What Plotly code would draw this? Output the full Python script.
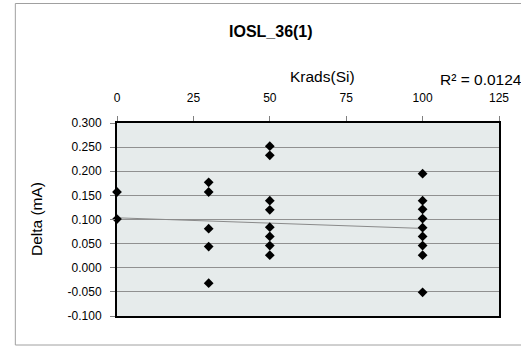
import plotly.graph_objects as go

# Data
krads = [0, 0,
         30, 30, 30, 30, 30,
         50, 50, 50, 50, 50, 50, 50, 50,
         100, 100, 100, 100, 100, 100, 100, 100, 100]
delta = [0.157, 0.101,
         0.177, 0.157, 0.081, 0.044, -0.032,
         0.252, 0.233, 0.139, 0.120, 0.084, 0.065, 0.046, 0.026,
         0.195, 0.139, 0.121, 0.102, 0.083, 0.065, 0.046, 0.026, -0.051]
trend_x = [0, 100]
trend_y = [0.1035, 0.0815]
x_ticks = [0, 25, 50, 75, 100, 125]
y_ticks = [-0.100, -0.050, 0.000, 0.050, 0.100, 0.150, 0.200, 0.250, 0.300]
title_text = "IOSL_36(1)"
x_title = "Krads(Si)"
y_title = "Delta (mA)"
r2_text = "R² = 0.0124"

W, H = 521, 347
L, R, T, B = 117, 17, 123, 31
pw, ph = W - L - R, H - T - B

def px(x):
    return (x - L) / pw

def py(y):
    return (H - B - y) / ph

fig = go.Figure()
fig.add_trace(go.Scatter(x=trend_x, y=trend_y, mode="lines",
                         line=dict(color="#8a8a8a", width=1),
                         showlegend=False, hoverinfo="skip"))
fig.add_trace(go.Scatter(x=krads, y=delta, mode="markers",
                         marker=dict(symbol="diamond", size=7.5, color="black"),
                         cliponaxis=False, showlegend=False))

font = "Liberation Sans, Arial, sans-serif"
fig.update_layout(
    width=W, height=H,
    margin=dict(l=L, r=R, t=T, b=B),
    paper_bgcolor="white",
    plot_bgcolor="#e6ebeb",
    font=dict(family=font, size=12, color="black"),
    xaxis=dict(range=[0, 125], side="top", tickvals=x_ticks,
               ticktext=[str(v) for v in x_ticks],
               ticks="outside", ticklen=5, tickcolor="#808080",
               ticklabelstandoff=9,
               showgrid=False, zeroline=False,
               showline=True, linecolor="black", linewidth=2, mirror=True,
               tickfont=dict(size=12)),
    yaxis=dict(range=[-0.100, 0.300], tickvals=y_ticks,
               ticktext=[f"{v:.3f}" for v in y_ticks],
               ticks="outside", ticklen=5, tickcolor="#808080",
               ticklabelstandoff=6,
               showgrid=True, gridcolor="#909090", gridwidth=1,
               zeroline=False,
               showline=True, linecolor="black", linewidth=2, mirror=True,
               tickfont=dict(size=12)),
    annotations=[
        dict(text=f"<b>{title_text}</b>", x=px(273), y=py(31), xref="paper", yref="paper",
             showarrow=False, font=dict(size=16, family=font), xanchor="center", yanchor="middle"),
        dict(text=x_title, x=px(325), y=py(76), xref="paper", yref="paper",
             showarrow=False, font=dict(size=15.5, family=font), xanchor="center", yanchor="middle"),
        dict(text=r2_text, x=px(442), y=py(79), xref="paper", yref="paper",
             showarrow=False, font=dict(size=15.5, family=font), xanchor="left", yanchor="middle"),
        dict(text=y_title, x=px(35), y=py(219), xref="paper", yref="paper",
             showarrow=False, textangle=-90, font=dict(size=15.5, family=font),
             xanchor="center", yanchor="middle"),
    ],
    shapes=[
        dict(type="rect", xref="paper", yref="paper",
             x0=px(14), x1=px(530), y0=py(345), y1=py(3.5),
             line=dict(color="#a0a0a0", width=1), fillcolor="rgba(0,0,0,0)", layer="below"),
    ],
)

fig.write_html("out.html", config={"displayModeBar": False},
               post_script="document.body.style.margin='0';")
